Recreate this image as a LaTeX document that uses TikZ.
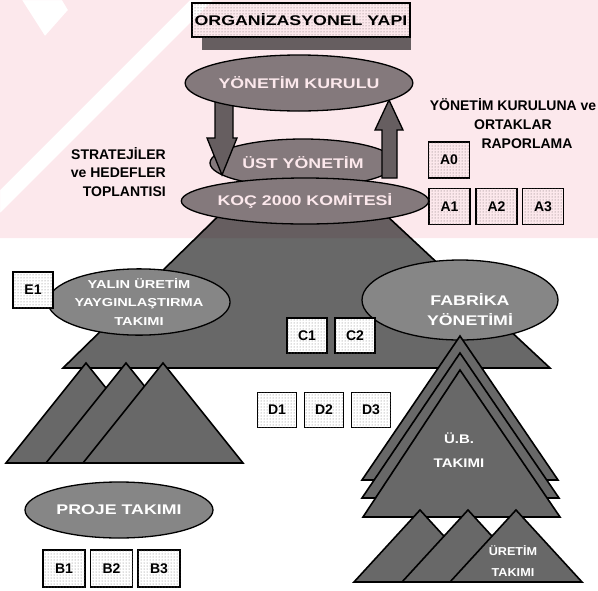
\documentclass[tikz,border=0pt]{standalone}
\usepackage{fontspec}
\setmainfont{Liberation Sans}
\usetikzlibrary{shapes.geometric,patterns}

\definecolor{wmpink}{RGB}{252,232,236}
\definecolor{trifill}{RGB}{104,104,104}
\definecolor{ovalfill}{RGB}{134,134,134}

% horizontally stretched lettering
\newcommand\stretched[1]{\scalebox{1.27}[1]{#1}}

\tikzset{
  every node/.style={font=\bfseries\fontsize{14}{16}\selectfont, inner sep=0pt},
  tri/.style={draw=black, line width=1.6pt, fill=trifill, line join=miter},
  oval/.style={ellipse, draw=black, line width=1.3pt, fill=ovalfill, text=white},
  codebox/.style={rectangle, draw=black, line width=1.3pt, fill=white,
    postaction={pattern=dots, pattern color=black!55},
    minimum width=41pt, minimum height=36pt},
  blockarrow/.style={draw=black, line width=1.3pt, fill=trifill, line join=miter},
  plain/.style={align=center, text=black},
}

\begin{document}
\begin{tikzpicture}[x=1pt,y=-1pt]
\useasboundingbox (0,0) rectangle (598,590);

% ---- title with its shadow
\fill[trifill] (202,14) rectangle (411,50);
\node[codebox, minimum width=218pt, minimum height=34pt] (title) at (301,20)
  {\stretched{ORGANİZASYONEL YAPI}};

% ---- main pyramid under the management ovals
\filldraw[tri] (63,368) -- (290,146) -- (312,146) -- (550,368) -- cycle;

% ---- management ovals and the reporting loop
\node[oval, minimum width=186pt, minimum height=48pt] (ust) at (303,163) {\stretched{ÜST YÖNETİM}};
\filldraw[blockarrow] (215,96) -- (233,96) -- (233,138) -- (237,138) -- (222,175)
  -- (207,138) -- (215,138) -- cycle;
\filldraw[blockarrow] (382,178) -- (397,178) -- (397,130) -- (403,130) -- (389,100)
  -- (375,130) -- (382,130) -- cycle;
\node[oval, minimum width=184pt, minimum height=46pt] (koc) at (305,201) {\stretched{KOÇ 2000 KOMİTESİ}};
\node[oval, minimum width=196pt, minimum height=56pt] (yk) at (299,83) {\stretched{YÖNETİM KURULU}};

% ---- side notes
\node[plain, align=right, anchor=east, font=\bfseries\fontsize{14}{18.5}\selectfont]
  (strat) at (166,172) {STRATEJİLER\\ve HEDEFLER\\TOPLANTISI};
\node[plain, font=\bfseries\fontsize{14}{19}\selectfont]
  (rapor) at (513,124) {YÖNETİM KURULUNA ve\\ORTAKLAR\\\hspace*{28pt}RAPORLAMA};

\node[codebox] (a0) at (449,160) {A0};
\node[codebox] (a1) at (449.5,206.5) {A1};
\node[codebox] (a2) at (496.5,206.5) {A2};
\node[codebox] (a3) at (543,206.5) {A3};

% ---- teams on the pyramid
\node[oval, minimum width=150pt, minimum height=60pt,
  font=\bfseries\fontsize{11.5}{18.5}\selectfont, align=center] (yalin) at (139,302)
  {\stretched{YALIN ÜRETİM}\\\stretched{YAYGINLAŞTIRMA}\\\stretched{TAKIMI}};
\node[codebox, minimum width=40pt] (e1) at (33,290) {E1};

\node[oval, minimum width=196pt, minimum height=80pt] (fab) at (460,300) {};
\node[text=white, align=center, font=\bfseries\fontsize{14}{20}\selectfont]
  (fabtxt) at (470,310) {\stretched{FABRİKA}\\\stretched{YÖNETİMİ}};

\node[codebox, minimum width=40pt, minimum height=35pt] (c1) at (307,335.5) {C1};
\node[codebox, minimum width=40pt, minimum height=35pt] (c2) at (355,335.5) {C2};

% ---- left group of small pyramids
\filldraw[tri] (86,363) -- (166,463) -- (6,463) -- cycle;
\filldraw[tri] (126,363) -- (206,463) -- (46,463) -- cycle;
\filldraw[tri] (163,363) -- (243,463) -- (83,463) -- cycle;

\node[codebox, minimum width=39pt, minimum height=35pt] (d1) at (277,410) {D1};
\node[codebox, minimum width=39pt, minimum height=35pt] (d2) at (324,410) {D2};
\node[codebox, minimum width=39pt, minimum height=35pt] (d3) at (371,410) {D3};

% ---- stacked pyramids under the plant management
\filldraw[tri] (460,336) -- (558,480) -- (362,480) -- cycle;
\filldraw[tri] (460,353) -- (559,498) -- (362,498) -- cycle;
\filldraw[tri] (460,370) -- (560,517) -- (363,517) -- cycle;
\node[text=white, align=center, font=\bfseries\fontsize{12.5}{24}\selectfont]
  (ub) at (459,450) {\scalebox{1.2}[1]{Ü.B.}\\\scalebox{1.2}[1]{TAKIMI}};

\filldraw[tri] (420,510) -- (486,582) -- (354,582) -- cycle;
\filldraw[tri] (468,510) -- (534,582) -- (402,582) -- cycle;
\filldraw[tri] (516,510) -- (582,582) -- (450,582) -- cycle;
\node[text=white, align=center, font=\bfseries\fontsize{11.5}{21}\selectfont]
  (uretim) at (513,561) {\scalebox{1.1}[1]{ÜRETİM}\\\scalebox{1.1}[1]{TAKIMI}};

% ---- project team
\node[oval, minimum width=188pt, minimum height=56pt] (proje) at (119,510) {\stretched{PROJE TAKIMI}};
\node[codebox, minimum width=42pt, minimum height=37pt] (b1) at (64,568.5) {B1};
\node[codebox, minimum width=42pt, minimum height=37pt] (b2) at (111.5,568.5) {B2};
\node[codebox, minimum width=42pt, minimum height=37pt] (b3) at (159,568.5) {B3};

% ---- faint pink watermark over the upper band
\begin{scope}[blend mode=multiply]
\fill[wmpink, even odd rule]
  (0,0) rectangle (598,238)
  (22,0) -- (62,0) -- (68,10) -- (45,36) -- cycle
  (190,0) -- (213,0) -- (0,213) -- (0,190) -- cycle;
\end{scope}
\end{tikzpicture}
\end{document}
